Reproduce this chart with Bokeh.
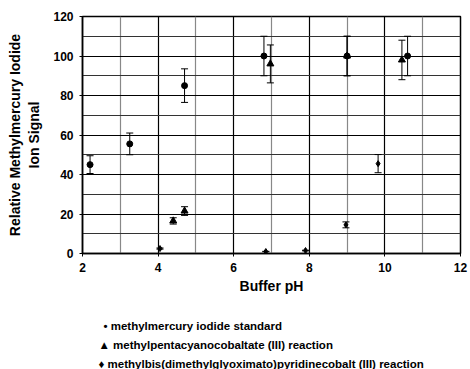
from bokeh.plotting import figure
from bokeh.models import ColumnDataSource, Whisker, TeeHead, Title, FixedTicker, Range1d
from bokeh.embed import file_html
from bokeh.resources import INLINE

# Data
std_ph = [2.2, 3.25, 4.7, 6.8, 9.0, 10.6]
std_sig = [45, 55.5, 85, 100, 100, 100]
std_err = [4.5, 5.5, 8.5, 10, 10, 10]

penta_ph = [4.4, 4.7, 6.97, 9.0, 10.45]
penta_sig = [16.5, 21.5, 96, 100, 98]
penta_err = [1.6, 2.2, 9.6, 10, 10]

bis_ph = [4.05, 6.85, 7.9, 8.97, 9.82]
bis_sig = [2.5, 1.0, 1.5, 14.5, 45.5]
bis_err = [0.3, 0.1, 0.15, 1.5, 4.6]

series_labels = ["methylmercury iodide standard",
                 "methylpentacyanocobaltate (III) reaction",
                 "methylbis(dimethylglyoximato)pyridinecobalt (III) reaction"]
legend_symbols = ["\u2022", "\u25b2", "\u2666"]

FONT = "Liberation Sans"

p = figure(frame_width=378, frame_height=237, output_backend="svg", toolbar_location=None,
           x_range=Range1d(2, 12), y_range=Range1d(0, 120),
           min_border_left=82, min_border_right=10, min_border_top=16, min_border_bottom=0)
p.background_fill_color = "white"
p.border_fill_color = "white"
p.outline_line_color = "black"
p.outline_line_width = 1.5

p.xaxis.ticker = FixedTicker(ticks=[2, 4, 6, 8, 10, 12], minor_ticks=[3, 5, 7, 9, 11])
p.yaxis.ticker = FixedTicker(ticks=[0, 20, 40, 60, 80, 100, 120], minor_ticks=list(range(10, 120, 20)))
p.xgrid.grid_line_color = "black"
p.xgrid.grid_line_width = 1.2
p.xgrid.minor_grid_line_color = "#888888"
p.xgrid.minor_grid_line_width = 1.2
p.ygrid.grid_line_color = "black"
p.ygrid.grid_line_width = 1.2
p.ygrid.minor_grid_line_color = "#333333"
p.ygrid.minor_grid_line_width = 1

for ax in (p.xaxis[0], p.yaxis[0]):
    ax.axis_line_color = "black"
    ax.axis_line_width = 1.5
    ax.major_tick_line_color = "black"
    ax.major_tick_in = 3
    ax.major_tick_out = 3
    ax.minor_tick_line_color = None
    ax.major_label_text_font = FONT
    ax.major_label_text_font_style = "bold"
    ax.major_label_text_font_size = "12px"
    ax.major_label_text_color = "black"
    ax.axis_label_text_font = FONT
    ax.axis_label_text_font_style = "bold"
    ax.axis_label_text_font_size = "14px"
    ax.axis_label_text_color = "black"

p.xaxis.axis_label = "Buffer pH"
p.yaxis.axis_label = "Relative Methylmercury Iodide\nIon Signal"
p.xaxis.axis_label_standoff = 3
p.yaxis.axis_label_standoff = 8

def add_series(xs, ys, es, marker, size):
    src = ColumnDataSource(dict(x=xs, y=ys, lo=[y - e for y, e in zip(ys, es)], hi=[y + e for y, e in zip(ys, es)]))
    w = Whisker(base="x", lower="lo", upper="hi", source=src, dimension="height",
                line_color="black", line_width=1,
                upper_head=TeeHead(size=7, line_color="black"),
                lower_head=TeeHead(size=7, line_color="black"))
    p.add_layout(w)
    return p.scatter("x", "y", source=src, marker=marker, size=size, color="black")

add_series(std_ph, std_sig, std_err, "circle", 6)
add_series(penta_ph, penta_sig, penta_err, "triangle", 7)
add_series(bis_ph, bis_sig, bis_err, "diamond", 6)

# spacer between the axis title and the legend rows
p.add_layout(Title(text=" ", text_font=FONT, text_font_size="11.5px", standoff=5), "below")

# legend rows as text lines below the axis
for i, (sym, lab) in enumerate(zip(legend_symbols, series_labels)):
    t = Title(text=f"{sym} {lab}", align="left", offset=(21 if i == 0 else 16),
              text_font=FONT, text_font_style="bold", text_font_size="11.5px",
              text_color="black", standoff=5)
    p.add_layout(t, "below")

open("out.html", "w").write(file_html(p, INLINE))
